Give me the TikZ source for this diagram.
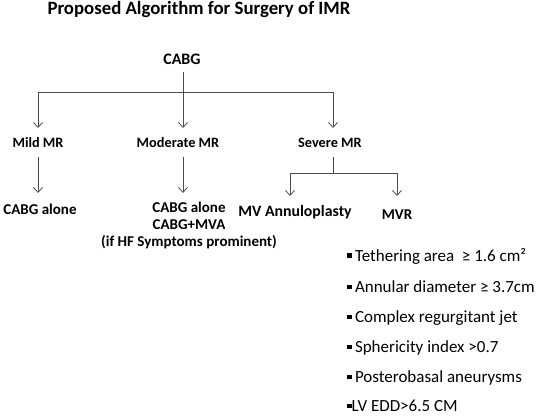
\documentclass[tikz,border=0pt]{standalone}
\usepackage{fontspec}
\setmainfont{Carlito}
\usetikzlibrary{arrows.meta}
\begin{document}
\begin{tikzpicture}[x=1pt,y=-1pt,
  lbl/.style={font=\bfseries\fontsize{14.3}{17}\selectfont, inner sep=1pt, align=center},
  res/.style={font=\bfseries\fontsize{15}{17}\selectfont, inner sep=1pt, align=center},
  item/.style={font=\fontsize{17}{20}\selectfont, anchor=west, inner sep=0pt},
  conn/.style={draw=black!70, line width=0.8pt},
  arr/.style={conn, -{Straight Barb[length=5pt,width=9pt]}}]
\useasboundingbox (0,0) rectangle (539,416);
\node[font=\bfseries\fontsize{18.8}{22}\selectfont, inner sep=0pt] (title) at (199,9) {Proposed Algorithm for Surgery of IMR};
\node[lbl, font=\bfseries\fontsize{16}{18}\selectfont] (cabg) at (182,59) {CABG};
\node[lbl] (mild) at (38,143) {Mild MR};
\node[lbl] (mod) at (178,143) {Moderate MR};
\node[lbl] (sev) at (330,143) {Severe MR};
\node[res] (alone) at (40,209) {CABG alone};
\node[res] (modt) at (189,225) {CABG alone\\CABG+MVA\\(if HF Symptoms prominent)};
\node[res, font=\bfseries\fontsize{15.8}{17}\selectfont] (mva) at (295,212) {MV Annuloplasty};
\node[res] (mvr) at (397,215) {MVR};
\coordinate (jl) at (38,92);
\coordinate (jc) at (183,92);
\coordinate (jr) at (333,92);
\coordinate (sj) at (333,173);
\coordinate (sl) at (290,173);
\coordinate (sr) at (397,173);
\draw[arr] (183,72) -- (183,128);
\draw[conn] (jl) -- (jr);
\draw[arr] (jl) -- (38,128);
\draw[arr] (jr) -- (333,128);
\draw[arr] (38,157) -- (38,193);
\draw[arr] (183,157) -- (183,193);
\draw[conn] (333,157) -- (sj);
\draw[conn] (sl) -- (sr);
\draw[arr] (sl) -- (290,196);
\draw[arr] (sr) -- (397,196);
\newcommand{\bul}{\rule[0.2em]{0.26em}{0.26em}\hspace{0.2em}}
\node[item] (b1) at (347,256) {\bul Tethering area\ \ ≥ 1.6 cm²};
\node[item] (b2) at (347,287) {\bul Annular diameter ≥ 3.7cm};
\node[item] (b3) at (347,318) {\bul Complex regurgitant jet};
\node[item] (b4) at (347,348) {\bul Sphericity index >0.7};
\node[item] (b5) at (347,378) {\bul Posterobasal aneurysms};
\node[item] (b6) at (347,406) {\rule[0.2em]{0.26em}{0.26em}LV EDD>6.5 CM};
\end{tikzpicture}
\end{document}
